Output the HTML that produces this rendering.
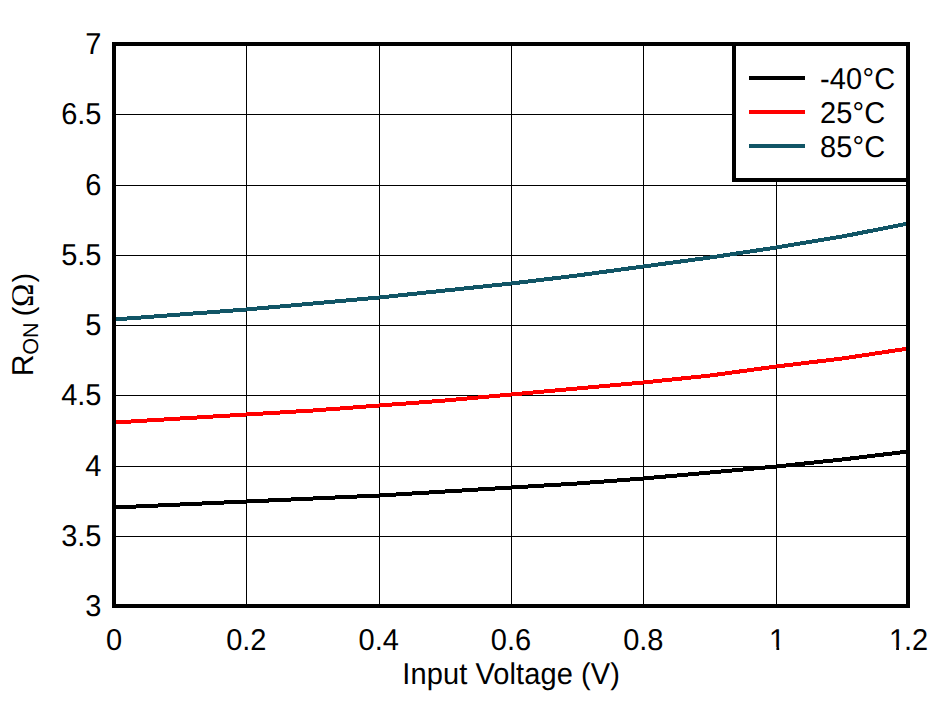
<!DOCTYPE html>
<html lang="en"><head><meta charset="utf-8"><title>RON vs Input Voltage</title>
<style>
html,body{margin:0;padding:0;background:#fff;}
body{width:952px;height:701px;overflow:hidden;}
svg{display:block;}
text{font-family:"Liberation Sans",sans-serif;font-size:29px;fill:#000;}
.g{fill:#000;shape-rendering:crispEdges;}
.c{fill:none;stroke-width:4;shape-rendering:crispEdges;stroke-linejoin:round;}
.f{fill:none;stroke:#000;stroke-width:4;shape-rendering:crispEdges;}
</style></head><body>
<svg width="952" height="701" viewBox="0 0 952 701">
<rect x="0" y="0" width="952" height="701" fill="#fff"/>
<g class="g">
<rect x="246" y="44" width="1" height="562"/>
<rect x="379" y="44" width="1" height="562"/>
<rect x="511" y="44" width="1" height="562"/>
<rect x="643" y="44" width="1" height="562"/>
<rect x="776" y="44" width="1" height="562"/>
<rect x="114" y="114" width="794" height="1"/>
<rect x="114" y="185" width="794" height="1"/>
<rect x="114" y="255" width="794" height="1"/>
<rect x="114" y="325" width="794" height="1"/>
<rect x="114" y="395" width="794" height="1"/>
<rect x="114" y="466" width="794" height="1"/>
<rect x="114" y="536" width="794" height="1"/>
</g>
<polyline class="c" stroke="#115566" points="114.3,319.5 180.3,314.5 246.3,309.5 313.3,303.5 379.3,297.5 445.3,290.5 511.3,283.5 577.3,275.5 643.3,266.5 710.3,257.5 776.3,247.5 842.3,236.5 908.3,223.5"/>
<polyline class="c" stroke="#ff0000" points="114.3,422.5 180.3,418.5 246.3,414.5 313.3,410.5 379.3,405.5 445.3,400.5 511.3,394.5 577.3,388.5 643.3,382.5 710.3,375.5 776.3,366.5 842.3,358.5 908.3,348.5"/>
<polyline class="c" stroke="#000000" points="114.3,507.5 180.3,504.5 246.3,501.5 313.3,498.5 379.3,495.5 445.3,491.5 511.3,487.5 577.3,483.5 643.3,478.5 710.3,472.5 776.3,466.5 842.3,459.5 908.3,451.5"/>
<rect x="734" y="44" width="174" height="136" fill="#fff" stroke="#000" stroke-width="4" shape-rendering="crispEdges"/>
<rect class="f" x="114" y="44" width="794" height="562"/>
<g shape-rendering="crispEdges">
<rect x="749" y="76" width="56" height="4" fill="#000"/>
<rect x="749" y="110" width="56" height="4" fill="#ff0000"/>
<rect x="749" y="144" width="56" height="4" fill="#115566"/>
</g>
<text transform="translate(819.90,89.00) matrix(1,0.0005,0,1.04,0,0)" style="letter-spacing:0.2px;">-40°C</text>
<text transform="translate(819.90,123.00) matrix(1,0.0005,0,1.04,0,0)" style="letter-spacing:0.2px;">25°C</text>
<text transform="translate(819.90,157.00) matrix(1,0.0005,0,1.04,0,0)" style="letter-spacing:0.2px;">85°C</text>
<text transform="translate(101.50,54.00) matrix(1,0.0005,0,1.04,0,0)" text-anchor="end">7</text>
<text transform="translate(101.50,124.00) matrix(1,0.0005,0,1.04,0,0)" text-anchor="end">6.5</text>
<text transform="translate(101.50,195.00) matrix(1,0.0005,0,1.04,0,0)" text-anchor="end">6</text>
<text transform="translate(101.50,265.00) matrix(1,0.0005,0,1.04,0,0)" text-anchor="end">5.5</text>
<text transform="translate(101.50,335.00) matrix(1,0.0005,0,1.04,0,0)" text-anchor="end">5</text>
<text transform="translate(101.50,405.00) matrix(1,0.0005,0,1.04,0,0)" text-anchor="end">4.5</text>
<text transform="translate(101.50,476.00) matrix(1,0.0005,0,1.04,0,0)" text-anchor="end">4</text>
<text transform="translate(101.50,546.00) matrix(1,0.0005,0,1.04,0,0)" text-anchor="end">3.5</text>
<text transform="translate(101.50,616.00) matrix(1,0.0005,0,1.04,0,0)" text-anchor="end">3</text>
<defs>
<clipPath id="k1"><rect x="755" y="620" width="45" height="27"/><rect x="776.45" y="646.5" width="2.75" height="5"/></clipPath>
<clipPath id="k12"><rect x="880" y="620" width="70" height="27"/><rect x="896.20" y="646.5" width="2.75" height="5"/><rect x="905" y="646.5" width="45" height="5"/></clipPath>
</defs>
<text transform="translate(114.00,650.00) matrix(1,0.0005,0,1.04,0,0)" text-anchor="middle">0</text>
<text transform="translate(246.33,650.00) matrix(1,0.0005,0,1.04,0,0)" text-anchor="middle">0.2</text>
<text transform="translate(378.67,650.00) matrix(1,0.0005,0,1.04,0,0)" text-anchor="middle">0.4</text>
<text transform="translate(511.00,650.00) matrix(1,0.0005,0,1.04,0,0)" text-anchor="middle">0.6</text>
<text transform="translate(643.33,650.00) matrix(1,0.0005,0,1.04,0,0)" text-anchor="middle">0.8</text>
<g clip-path="url(#k1)">
<text transform="translate(777.12,650.00) matrix(1,0.0005,0,1.04,0,0)" text-anchor="middle">1</text>
</g>
<g clip-path="url(#k12)">
<text transform="translate(908.00,650.00) matrix(1,0.0005,0,1.04,0,0)" text-anchor="middle"><tspan dx="0.625">1</tspan><tspan dx="-1.25">.2</tspan></text>
</g>
<text transform="translate(511.20,684.00) matrix(1,0.0005,0,1.04,0,0)" text-anchor="middle" style="letter-spacing:0.1px;">Input Voltage (V)</text>
<text transform="translate(33.1,0) rotate(-90) matrix(1,0.0005,0,1,0,0)"><tspan x="-376.2" y="0" style="font-size:30.2px">R</tspan><tspan x="-354.85" y="5.1" style="font-size:21.5px">ON</tspan><tspan x="-324.36" y="0"> (</tspan><tspan x="-307.0" y="0" style="font-size:31.5px;font-family:'Liberation Serif',serif">Ω</tspan><tspan x="-282.5" y="0">)</tspan></text>
</svg></body></html>
